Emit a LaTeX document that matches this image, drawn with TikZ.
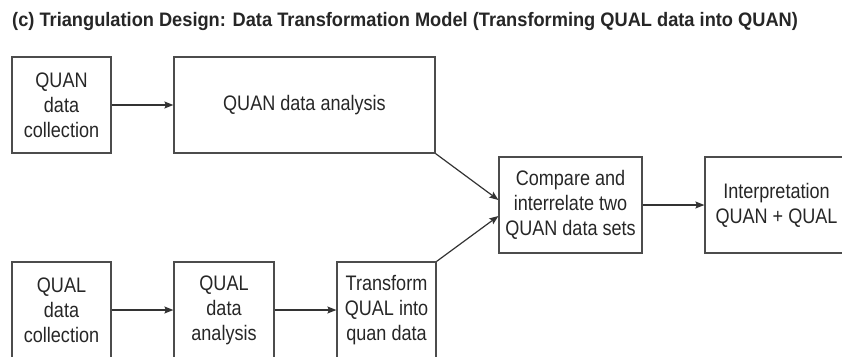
\documentclass[tikz,border=0pt]{standalone}
\usepackage{fontspec}
\setmainfont{Liberation Sans}
\newfontfamily\titlefont[FakeStretch=0.935]{Liberation Sans}
\newfontfamily\boxfont[FakeStretch=0.86]{Liberation Sans}
\usetikzlibrary{arrows.meta}

\begin{document}
\begin{tikzpicture}[x=1pt, y=-1pt,
		box/.style={draw=black!70, line width=1.2pt, align=center, inner sep=0pt, text=black!85,
			font=\boxfont\fontsize{21}{25}\selectfont},
		arr/.style={draw=black!80, line width=1.2pt, -{Stealth[length=9pt, width=7pt, inset=1.5pt]}}]
				\useasboundingbox (0,0) rectangle (842,356);
				\node[anchor=west, inner sep=0pt, font=\titlefont\bfseries\fontsize{19.5}{21}\selectfont, text=black!85] (title) at (12,22) {(c) Triangulation Design: Data Transformation Model (Transforming QUAL data into QUAN)};
				\node[box, minimum width=99pt, minimum height=96pt] (quancoll) at (61.5,105) {QUAN\\data\\collection};
				\node[box, minimum width=261pt, minimum height=96pt] (quanana) at (304.5,105) {QUAN data analysis};
				\node[box, minimum width=99pt, minimum height=96pt] (qualcoll) at (61.5,310) {QUAL\\data\\collection};
				\node[box, minimum width=100pt, minimum height=96pt] (qualana) at (224,310) {QUAL\\data\\analysis};
				\node[box, minimum width=99pt, minimum height=96pt] (transform) at (386.5,310) {Transform\\QUAL into\\quan data};
				\node[box, minimum width=143pt, minimum height=96pt] (compare) at (570.5,205) {Compare and\\interrelate two\\QUAN data sets};
				\node[box, minimum width=143pt, minimum height=96pt] (interp) at (776.5,205) {Interpretation\\QUAN + QUAL};
				
				\draw[arr] (quancoll) -- (quanana);
				\draw[arr] (qualcoll) -- (qualana);
				\draw[arr] (qualana) -- (transform);
				\draw[arr] (quanana.south east) -- ([yshift=5pt]compare.west);
				\draw[arr] (transform.north east) -- ([yshift=-11pt]compare.west);
				\draw[arr] (compare) -- (interp);
			\end{tikzpicture}
\end{document}
